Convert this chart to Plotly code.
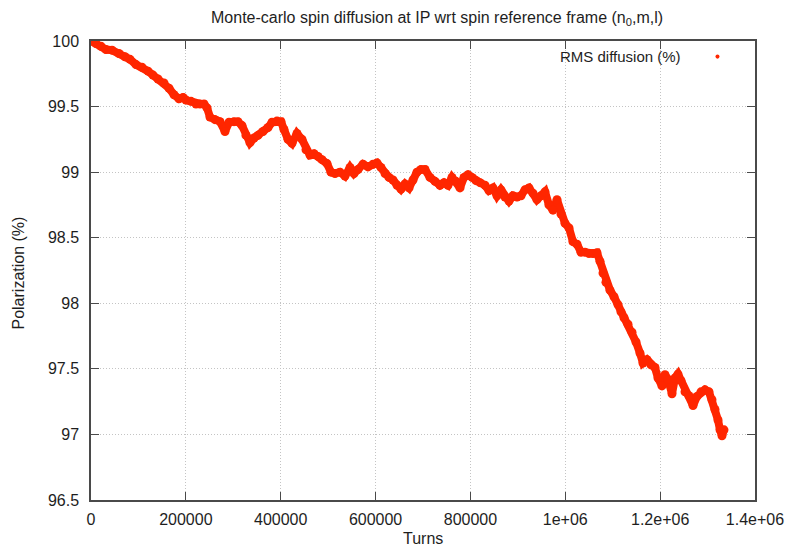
import plotly.graph_objects as go

# Monte-carlo spin tracking: polarization vs. turn number
turns = [
    0, 10500, 21000, 31600, 44300, 59000, 71700, 82200, 94900, 107500,
    120200, 130700, 141300, 153900, 164500, 175000, 185500, 194000, 200300, 210800,
    221400, 229800, 238300, 244600, 250900, 261400, 272000, 282500, 291000, 301500,
    309900, 318400, 326800, 335200, 343700, 352100, 362600, 373200, 381600, 392200,
    400600, 406900, 415300, 423800, 434300, 444900, 453300, 461700, 470200, 478600,
    487000, 497600, 506000, 514500, 525000, 535500, 546100, 554500, 563000, 573500,
    584000, 594600, 603000, 611400, 619900, 628300, 636700, 645200, 653600, 662000,
    670500, 678900, 687300, 695800, 704200, 714700, 725300, 735800, 744300, 752700,
    761100, 769600, 778000, 786400, 794900, 803300, 811700, 820200, 830700, 839100,
    847600, 856000, 864400, 872900, 881300, 889700, 898200, 906600, 915000, 923500,
    931900, 940300, 948800, 957200, 965600, 974100, 982500, 990900, 999400, 1007800,
    1016200, 1024700, 1033100, 1041500, 1050000, 1058400, 1066800, 1073200, 1079500, 1085800,
    1094300, 1102700, 1111100, 1117400, 1123800, 1132200, 1140600, 1149100, 1157500, 1163800,
    1172300, 1180700, 1189100, 1195500, 1203900, 1210200, 1216600, 1225000, 1231300, 1237600,
    1244000, 1252400, 1260800, 1269300, 1277700, 1286100, 1294600, 1303000, 1309300, 1315600,
    1322000, 1326200, 1330400, 1334600,
]
polarization = [
    100.0, 99.98, 99.96, 99.935, 99.93, 99.905, 99.88, 99.86, 99.82, 99.80,
    99.77, 99.74, 99.71, 99.68, 99.64, 99.59, 99.56, 99.57, 99.55, 99.54,
    99.52, 99.52, 99.52, 99.49, 99.42, 99.40, 99.385, 99.31, 99.38, 99.385,
    99.385, 99.355, 99.28, 99.225, 99.26, 99.28, 99.31, 99.34, 99.38, 99.39,
    99.385, 99.325, 99.25, 99.22, 99.295, 99.25, 99.17, 99.13, 99.14, 99.12,
    99.095, 99.065, 99.00, 98.99, 99.00, 98.97, 99.035, 98.99, 99.02, 99.06,
    99.04, 99.06, 99.07, 99.035, 98.99, 98.96, 98.94, 98.90, 98.87, 98.91,
    98.88, 98.94, 99.00, 99.02, 99.02, 98.96, 98.93, 98.90, 98.92, 98.90,
    98.96, 98.93, 98.88, 98.96, 98.98, 98.96, 98.935, 98.92, 98.90, 98.86,
    98.88, 98.82, 98.865, 98.81, 98.78, 98.82, 98.81, 98.82, 98.865, 98.88,
    98.84, 98.79, 98.82, 98.85, 98.75, 98.71, 98.79, 98.68, 98.61, 98.575,
    98.47, 98.45, 98.39, 98.39, 98.38, 98.38, 98.385, 98.32, 98.23, 98.16,
    98.10, 98.05, 97.99, 97.935, 97.89, 97.84, 97.78, 97.705, 97.62, 97.545,
    97.57, 97.53, 97.51, 97.43, 97.37, 97.455, 97.42, 97.31, 97.43, 97.46,
    97.41, 97.325, 97.295, 97.22, 97.29, 97.325, 97.34, 97.325, 97.265, 97.19,
    97.11, 97.035, 96.99, 97.035,
]

x_ticks = [0, 200000, 400000, 600000, 800000, 1000000, 1200000, 1400000]
x_tick_labels = ["0", "200000", "400000", "600000", "800000", "1e+06", "1.2e+06", "1.4e+06"]
y_ticks = [96.5, 97, 97.5, 98, 98.5, 99, 99.5, 100]
y_tick_labels = ["96.5", "97", "97.5", "98", "98.5", "99", "99.5", "100"]

RED = "#ff2600"
FONT = "Liberation Sans, Arial, Helvetica, sans-serif"
TEXT = "#1e1e1e"
AXIS_COLOR = "#4a4a4a"

fig = go.Figure()
fig.add_trace(go.Scatter(
    x=turns, y=polarization,
    mode="lines+markers",
    line=dict(color=RED, width=8),
    marker=dict(color=RED, size=9),
    name="RMS diffusion (%)",
    showlegend=False,
))

axis_common = dict(
    automargin=False,
    showline=True, linecolor=AXIS_COLOR, linewidth=1.5,
    mirror="allticks", ticks="inside", ticklen=8, tickwidth=1.2, tickcolor=AXIS_COLOR,
    showgrid=True, gridcolor="#c4c4c4", gridwidth=1, griddash="1px,2px",
    zeroline=False,
    tickfont=dict(family=FONT, size=16, color=TEXT),
)

fig.update_layout(
    template="none",
    width=787, height=548,
    margin=dict(l=91, r=32, t=41, b=48),
    paper_bgcolor="white", plot_bgcolor="white",
    font=dict(family=FONT, size=16, color=TEXT),
    xaxis=dict(
        range=[0, 1400000], tickvals=x_ticks, ticktext=x_tick_labels,
        ticklabelstandoff=4,
        **axis_common,
    ),
    yaxis=dict(
        range=[96.5, 100], tickvals=y_ticks, ticktext=y_tick_labels,
        ticklabelstandoff=7,
        **axis_common,
    ),
    showlegend=False,
    annotations=[
        dict(
            text="Monte-carlo spin diffusion at IP wrt spin reference frame (n<sub>0</sub>,m,l)",
            xref="paper", yref="paper", x=0.521, y=1.0, yshift=23,
            xanchor="center", yanchor="middle", showarrow=False,
            font=dict(family=FONT, size=16, color=TEXT),
        ),
        dict(
            text="Turns",
            xref="paper", yref="paper", x=0.5, y=0.0, yshift=-38,
            xanchor="center", yanchor="middle", showarrow=False,
            font=dict(family=FONT, size=16, color=TEXT),
        ),
        dict(
            text="Polarization (%)", textangle=-90,
            xref="paper", yref="paper", x=0.0, xshift=-73, y=0.5, yshift=-3,
            xanchor="center", yanchor="middle", showarrow=False,
            font=dict(family=FONT, size=16, color=TEXT),
        ),
        dict(
            text="RMS diffusion (%)",
            xref="paper", yref="paper", x=0.8916, y=0.966,
            xanchor="right", yanchor="middle", showarrow=False,
            font=dict(family=FONT, size=15, color=TEXT),
        ),
    ],
    shapes=[
        # key marker for the series
        dict(type="circle", xref="paper", yref="paper",
             x0=0.9405, x1=0.9465, y0=0.9615, y1=0.9705,
             fillcolor=RED, line=dict(color=RED, width=0)),
    ],
)

fig.write_html("out.html")
